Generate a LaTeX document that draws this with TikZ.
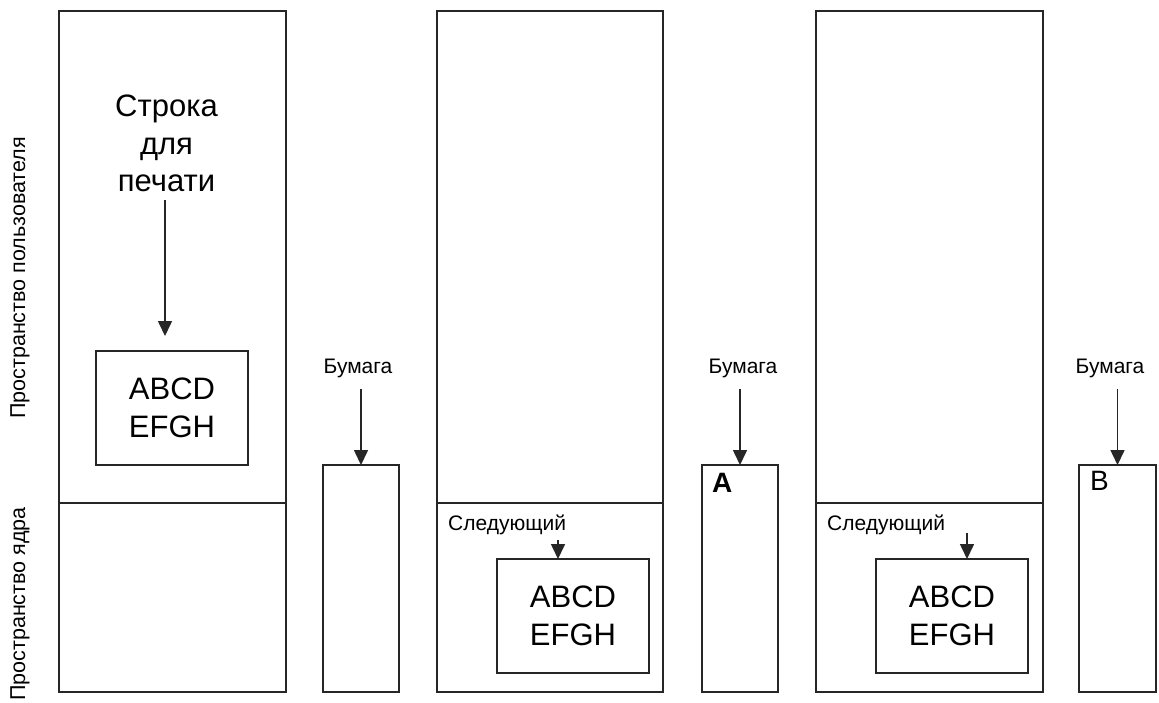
\documentclass[tikz,border=0pt]{standalone}
\usepackage{fontspec}
\setmainfont{Liberation Sans}
\usetikzlibrary{arrows.meta}
\tikzset{
  box/.style={draw=black!85, line width=1.6pt, inner sep=0pt, outer sep=0pt},
  conn/.style={draw=black!85, line width=1.6pt, -{Triangle[width=14pt,length=15pt]}},
  bigtxt/.style={font=\fontsize{31}{37.5}\selectfont, inner sep=0pt, align=center},
  smalltxt/.style={font=\fontsize{21}{25}\selectfont, inner sep=0pt},
  sidetxt/.style={font=\fontsize{21.5}{25}\selectfont, inner sep=0pt, rotate=90, anchor=base},
  lettertxt/.style={font=\fontsize{28}{32}\selectfont, inner sep=0pt, anchor=base west}
}
\begin{document}
\begin{tikzpicture}[x=1pt,y=-1pt]
\useasboundingbox (0,0) rectangle (1159,702);
% side labels
\node[sidetxt] (lu) at (25,278) {Пространство пользователя};
\node[sidetxt] (lk) at (25,604) {Пространство ядра};
% panels
\node[box, minimum width=227pt, minimum height=681pt] (p1) at (172.5,351.5) {};
\node[box, minimum width=226pt, minimum height=681pt] (p2) at (550,351.5) {};
\node[box, minimum width=227pt, minimum height=681pt] (p3) at (929.5,351.5) {};
\draw[box] (p1.west |- 0,503) -- (p1.east |- 0,503);
\draw[box] (p2.west |- 0,503) -- (p2.east |- 0,503);
\draw[box] (p3.west |- 0,503) -- (p3.east |- 0,503);
% inner boxes
\node[box, minimum width=152pt, minimum height=114pt] (ib1) at (172,408) {};
\node[bigtxt] (ab1) at (ib1.center) {ABCD\\EFGH};
\node[box, minimum width=152pt, minimum height=114pt] (ib2) at (573,616) {};
\node[bigtxt] (ab2) at (ib2.center) {ABCD\\EFGH};
\node[box, minimum width=152pt, minimum height=114pt] (ib3) at (952,616) {};
\node[bigtxt] (ab3) at (ib3.center) {ABCD\\EFGH};
% string to print
\node[bigtxt] (t1) at (166.5,143.5) {Строка\\для\\печати};
\coordinate (a1) at (165,200);
\draw[conn, shorten >=15pt] (a1) -- (ib1.north -| a1);
% next labels
\node[smalltxt, anchor=base west] (n2) at (448,530) {Следующий};
\coordinate (a2) at (558,540);
\draw[conn] (a2) -- (ib2.north -| a2);
\node[smalltxt, anchor=base west] (n3) at (827,530) {Следующий};
\coordinate (a3) at (967,533);
\draw[conn] (a3) -- (ib3.north -| a3);
% paper boxes
\node[box, minimum width=76pt, minimum height=227pt] (pb1) at (361,578.5) {};
\node[box, minimum width=76pt, minimum height=227pt] (pb2) at (740,578.5) {};
\node[box, minimum width=77pt, minimum height=227pt] (pb3) at (1117.5,578.5) {};
\node[smalltxt, anchor=base] (b1) at (358,373) {Бумага};
\node[smalltxt, anchor=base] (b2) at (743,373) {Бумага};
\node[smalltxt, anchor=base] (b3) at (1110,373) {Бумага};
\draw[conn] (pb1.north |- 0,389) -- (pb1.north);
\draw[conn] (pb2.north |- 0,389) -- (pb2.north);
\draw[conn] (pb3.north |- 0,389) -- (pb3.north);
\node[lettertxt, font=\fontsize{28}{32}\selectfont\bfseries] (la) at (712,492) {A};
\node[lettertxt] (lb) at (1090,490) {B};
\end{tikzpicture}
\end{document}
